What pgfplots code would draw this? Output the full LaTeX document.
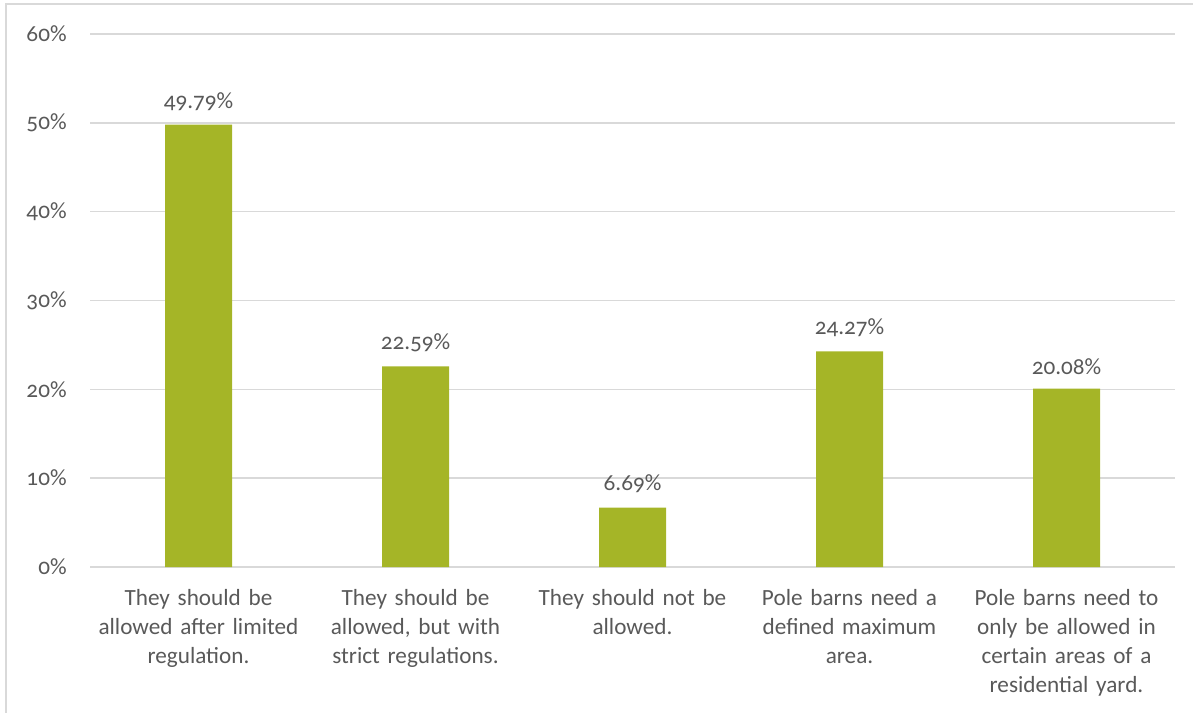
\documentclass[border=0pt]{standalone}
\usepackage{pgfplots}
\pgfplotsset{compat=1.18}
\usepackage{fontspec}
\setmainfont[Numbers=OldStyle]{Carlito}
\definecolor{barg}{HTML}{A5B527}
\definecolor{gridg}{HTML}{D9D9D9}
\definecolor{txt}{HTML}{595959}
\begin{document}
\begin{tikzpicture}[font=\fontsize{11.6}{14.5}\selectfont]
\path[use as bounding box] (0,0) rectangle (596.5pt,356pt);
\draw[gridg, line width=0.75pt] (3pt,-5pt) -- (3pt,354pt) -- (600pt,354pt);
\begin{axis}[
  at={(45pt,72.5pt)}, anchor=south west,
  scale only axis, width=542.5pt, height=266.5pt,
  xmin=-0.5, xmax=4.5, ymin=0, ymax=60,
  ytick={0,10,...,60},
  xtick={0,1,2,3,4},
  xticklabels={
    {They should be\\allowed after limited\\regulation.},
    {They should be\\allowed, but with\\strict regulations.},
    {They should not be\\allowed.},
    {Pole barns need a\\defined maximum\\area.},
    {Pole barns need to\\only be allowed in\\certain areas of a\\residential yard.}},
  xticklabel style={align=center, text width=110pt, anchor=north, inner sep=0pt, yshift=-11pt, text=txt},
  yticklabel={\pgfmathprintnumber{\tick}\%},
  yticklabel style={anchor=east, inner sep=0pt, xshift=-11.5pt, text=txt},
  /pgf/number format/assume math mode=true,
  major tick length=0pt,
  axis line style={draw=none},
  ymajorgrids, grid style={gridg, line width=0.75pt},
  extra y ticks={0}, extra y tick labels={},
  extra y tick style={grid style={gridg, line width=1pt}},
  ybar, bar width=33.5pt,
  nodes near coords={\pgfmathprintnumber[fixed,fixed zerofill,precision=2]{\pgfplotspointmeta}\%},
  nodes near coords style={text=txt, anchor=south, inner sep=0pt, yshift=7pt},
  clip=false,
]
\addplot[fill=barg, draw=none] coordinates {(0,49.79) (1,22.59) (2,6.69) (3,24.27) (4,20.08)};
\end{axis}
\end{tikzpicture}
\end{document}
